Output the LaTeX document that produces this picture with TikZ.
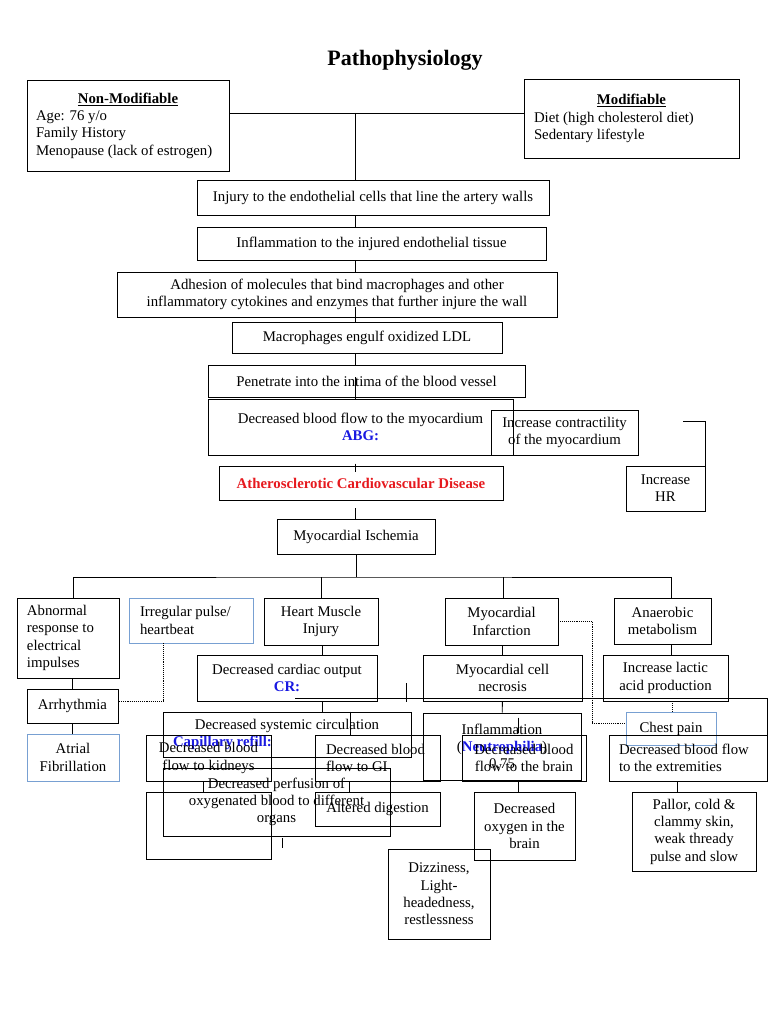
\documentclass[tikz,border=0pt]{standalone}
\usepackage{fontspec}
\setmainfont{Liberation Serif}
\usetikzlibrary{calc}
\definecolor{labblue}{RGB}{25,25,225}
\definecolor{dxred}{RGB}{230,25,30}
\definecolor{edgeblue}{RGB}{120,160,210}

\begin{document}
\begin{tikzpicture}[x=1pt, y=-1pt, line width=0.9pt,
  every node/.style={font=\fontsize{14.8}{17.3}\selectfont},
  box/.style={draw, line width=0.9pt, align=center, inner sep=0pt},
  sz/.style 2 args={minimum width=#1pt, minimum height=#2pt},
  bluebox/.style={draw=edgeblue}]
  \useasboundingbox (0,0) rectangle (768,1024);

  \node[font=\fontsize{22}{26}\selectfont\bfseries] (Title) at (405,60) {Pathophysiology};

  \node[box, sz={202}{91}, align=flush left, inner xsep=9pt, text width=184pt] (NonMod) at (128,125.5)
        {{\centering\underline{\textbf{Non-Modifiable}}\par}Age: 76 y/o\\Family History\\Menopause (lack of estrogen)};
  \node[box, sz={215}{79}, align=flush left, inner xsep=10pt, text width=195pt] (Mod) at (631.5,118.5)
        {{\centering\underline{\textbf{Modifiable}}\par}Diet (high cholesterol diet)\\Sedentary lifestyle};

  \node[box, sz={352}{35}] (Injury) at (373,197.5) {Injury to the endothelial cells that line the artery walls};
  \node[box, sz={349}{33}] (InflamTissue) at (371.5,243.5) {Inflammation to the injured endothelial tissue};
  \node[box, sz={440}{45}] (Adhesion) at (337,294.5)
        {Adhesion of molecules that bind macrophages and other\\inflammatory cytokines and enzymes that further injure the wall};
  \node[box, sz={270}{31}] (Macro) at (367,337.5) {Macrophages engulf oxidized LDL};
  \node[box, sz={317}{32}] (Intima) at (366.5,381) {Penetrate into the intima of the blood vessel};
  \node[box, sz={305}{56}] (FlowMyo) at (360.5,427) {Decreased blood flow to the myocardium\\\textcolor{labblue}{\textbf{ABG:}}};
  \node[box, sz={147}{45}] (Contract) at (564.5,432.5) {Increase contractility\\of the myocardium};
  \node[box, sz={79}{45}] (HR) at (665.5,488.5) {Increase\\HR};
  \node[box, sz={284}{34}, text=dxred, font=\fontsize{14.8}{17.3}\selectfont\bfseries] (ASCVD) at (361,483)
        {Atherosclerotic Cardiovascular Disease};
  \node[box, sz={158}{35}] (Ischemia) at (356,536.5) {Myocardial Ischemia};

  \node[box, sz={102}{80}, align=flush left, inner xsep=10pt, text width=82pt] (Abnormal) at (68,638)
        {Abnormal\\response to\\electrical\\impulses};
  \node[box, bluebox, sz={124}{45}, align=flush left, inner xsep=11pt, text width=102pt] (Irregular) at (191,620.5)
        {Irregular pulse/\\heartbeat};
  \node[box, sz={114}{47}] (MuscleInj) at (321,621.5) {Heart Muscle\\Injury};
  \node[box, sz={113}{47}] (Infarct) at (501.5,621.5) {Myocardial\\Infarction};
  \node[box, sz={97}{46}] (Anaerobic) at (662.5,621) {Anaerobic\\metabolism};

  \node[box, sz={91}{34}] (Arrhythmia) at (72.5,706) {Arrhythmia};
  \node[box, bluebox, sz={92}{47}] (AFib) at (73,757.5) {Atrial\\Fibrillation};
  \node[box, sz={180}{46}] (Output) at (287,678) {Decreased cardiac output\\\textcolor{labblue}{\textbf{CR:}}};
  \node[box, sz={159}{46}] (Necrosis) at (502.5,678) {Myocardial cell\\necrosis};
  \node[box, sz={125}{46}] (Lactic) at (665.5,678) {Increase lactic\\acid production};

  \node[box, sz={248}{45}] (Systemic) at (287,734.5)
        {Decreased systemic circulation\\\makebox[228pt][l]{\textcolor{labblue}{\textbf{Capillary refill:}}}};
  \node[box, sz={125}{46}] (Kidneys) at (208.5,758) {Decreased blood\\flow to kidneys};
  \node[box, sz={125}{46}, align=flush left, inner xsep=11pt, text width=103pt] (GI) at (377.5,758) {Decreased blood\\flow to GI};
  \node[box, sz={227}{68}] (Perfusion) at (276.5,802) {Decreased perfusion of\\oxygenated blood to different\\organs};
  \node[box, sz={125}{67}] (Blank) at (208.5,825.5) {};
  \node[box, sz={125}{34}] (Digestion) at (377.5,809) {Altered digestion};
  \node[box, sz={158}{67}] (Inflam) at (502,746.5) {Inflammation\\(\textcolor{labblue}{\textbf{Neutrophilia}})\\0.75};
  \node[box, sz={124}{46}] (Brain) at (524,758) {Decreased blood\\flow to the brain};
  \node[box, sz={101}{68}] (Oxygen) at (524.5,826) {Decreased\\oxygen in the\\brain};
  \node[box, sz={102}{90}] (Dizzy) at (439,894) {Dizziness,\\Light-\\headedness,\\restlessness};
  \node[box, bluebox, sz={90}{33}] (ChestPain) at (671,728.5) {Chest pain};
  \node[box, sz={158}{46}, align=flush left, inner xsep=10pt, text width=138pt] (Extremity) at (688,758)
        {Decreased blood flow\\to the extremities};
  \node[box, sz={124}{79}] (Pallor) at (694,831.5) {Pallor, cold \&\\clammy skin,\\weak thready\\pulse and slow};

  \coordinate (RiskJoin) at (355,113);
  \draw (NonMod.east |- RiskJoin) -- (Mod.west |- RiskJoin);
  \draw (RiskJoin) -- (RiskJoin |- Injury.north);
  \draw (RiskJoin |- Injury.south) -- (RiskJoin |- InflamTissue.north);
  \draw (RiskJoin |- InflamTissue.south) -- (RiskJoin |- Adhesion.north);
  \draw ($(RiskJoin |- Adhesion.south)+(0,-10)$) -- (RiskJoin |- Macro.north);
  \draw (RiskJoin |- Macro.south) -- (RiskJoin |- Intima.north);
  \draw ($(RiskJoin |- Intima.south)+(0,-20)$) -- (RiskJoin |- FlowMyo.north);
  \draw ($(RiskJoin |- ASCVD.north)+(0,-2)$) -- ++(0,8);
  \draw ($(RiskJoin |- ASCVD.south)+(0,8)$) -- (RiskJoin |- Ischemia.north);

  \coordinate (HRTap) at (683,421);
  \draw (HRTap) -| (HR.north east);

  \coordinate (Bus) at (356,577);
  \draw (Ischemia) -- (Bus);
  \draw ([xshift=5pt]Abnormal.north) |- (Bus) -| ([xshift=8.5pt]Anaerobic.north);
  \draw (MuscleInj.north) -- (MuscleInj.north |- Bus);
  \draw ([xshift=1.5pt]Infarct.north) -- ([xshift=1.5pt]Infarct.north |- Bus);

  \draw (Arrhythmia.north |- Abnormal.south) -- (Arrhythmia.north);
  \draw (Arrhythmia.south) -- (Arrhythmia.south |- AFib.north);
  \draw[densely dotted] ([xshift=-28pt]Irregular.south) |- ([yshift=5pt]Arrhythmia.east);

  \draw ([xshift=1pt]MuscleInj.south) -- ([xshift=1pt]MuscleInj.south |- Output.north);
  \draw ([xshift=1pt]MuscleInj.south |- Output.south) -- ([xshift=1pt]MuscleInj.south |- Systemic.north);
  \draw ([xshift=63pt]Systemic.north) -- ([xshift=63pt]Systemic.north |- GI.north);
  \draw ([xshift=-5.5pt]Kidneys.south) -- ([xshift=-5.5pt]Kidneys.south |- Blank.north);
  \draw ([xshift=-28.5pt]GI.south) -- ([xshift=-28.5pt]GI.south |- Digestion.north);
  \draw ([xshift=5.5pt,yshift=-2pt]Perfusion.south) -- ++(0,10);

  \draw ([xshift=1pt]Infarct.south) -- ([xshift=1pt]Infarct.south |- Necrosis.north);
  \draw (Necrosis) -- (Inflam);
  \draw ([xshift=16pt,yshift=-5pt]Inflam.north) -- ++(0,15);
  \draw ([xshift=-6pt]Brain.south) -- ([xshift=-6pt]Brain.south |- Oxygen.north);

  \draw ([xshift=8.5pt]Anaerobic.south) -- ([xshift=8.5pt]Anaerobic.south |- Lactic.north);
  \draw[densely dotted] ([xshift=6.5pt]Lactic.south) -- ([xshift=6.5pt]Lactic.south |- ChestPain.north);
  \draw[densely dotted] (Infarct.east) -- ++(34,0) |- ([yshift=5.5pt]ChestPain.west);
  \draw ([xshift=-11pt]Extremity.south) -- ([xshift=-11pt]Extremity.south |- Pallor.north);

  \draw (295,698) -- (767,698) -- (767,754);
  \draw (406,683) -- (406,702);
\end{tikzpicture}
\end{document}
